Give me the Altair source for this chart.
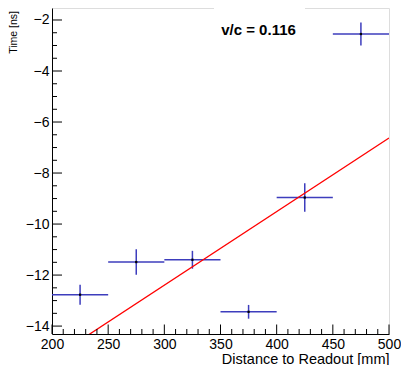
import altair as alt
import pandas as pd
import numpy as np

# Data
dist = [225, 275, 325, 375, 425, 475]          # bin centres [mm]
half_width = [25, 25, 25, 25, 25, 25]          # horizontal error (bin half width)
time = [-12.77, -11.49, -11.40, -13.44, -8.96, -2.55]  # [ns]
time_err = [0.39, 0.50, 0.35, 0.27, 0.56, 0.45]

fit_x = [200, 500]
fit_y = [-15.28, -6.63]

x_major = [200, 250, 300, 350, 400, 450, 500]
x_minor = [v for v in range(200, 501, 10) if v % 50 != 0]
y_major = [-14, -12, -10, -8, -6, -4, -2]
y_minor = [v for v in np.arange(-14.0, -1.9, 0.5).tolist() if v % 2 != 0]

annotation = ["v/c = 0.116"]
y_title = ["Time [ns]"]

W, H = 337, 326
XDOM = [200, 500]
YDOM = [-14.31, -1.53]

df = pd.DataFrame({
    "x": dist,
    "xlo": [a - b for a, b in zip(dist, half_width)],
    "xhi": [a + b for a, b in zip(dist, half_width)],
    "y": time,
    "ylo": [a - b for a, b in zip(time, time_err)],
    "yhi": [a + b for a, b in zip(time, time_err)],
})
fit = pd.DataFrame({"x": fit_x, "y": fit_y})

FONT = "Liberation Sans"
xscale = alt.Scale(domain=XDOM, nice=False, zero=False, padding=0)
yscale = alt.Scale(domain=YDOM, nice=False, zero=False, padding=0)

xaxis = alt.Axis(values=x_major, ticks=False, grid=False, domainColor="black",
                 domainWidth=1, labelFont=FONT, labelFontSize=14, labelColor="black",
                 labelPadding=3, labelFlush=False,
                 title="Distance to Readout [mm]", titleFont=FONT, titleFontSize=14.5,
                 titleFontWeight="normal", titleColor="black", titleAnchor="end",
                 titleAlign="right", titleBaseline="alphabetic", titleX=W, titleY=29)
yaxis = alt.Axis(values=y_major, ticks=False, grid=False, domainColor="black",
                 domainWidth=1, labelFont=FONT, labelFontSize=14, labelColor="black",
                 labelPadding=3, labelFlush=False, title=None)

base = alt.Chart(df)
BLUE = "#3d3dbd"

hbar = base.mark_rule(color=BLUE, strokeWidth=1.5).encode(
    x=alt.X("xlo:Q", scale=xscale, axis=xaxis),
    x2="xhi:Q",
    y=alt.Y("y:Q", scale=yscale, axis=yaxis),
)
vbar = base.mark_rule(color=BLUE, strokeWidth=1.5).encode(
    x=alt.X("x:Q", scale=xscale),
    y=alt.Y("ylo:Q", scale=yscale),
    y2="yhi:Q",
)
pts = base.mark_square(color="black", size=5, opacity=1).encode(
    x=alt.X("x:Q", scale=xscale),
    y=alt.Y("y:Q", scale=yscale),
)
line = alt.Chart(fit).mark_line(color="#ff0000", strokeWidth=1.3, clip=True).encode(
    x=alt.X("x:Q", scale=xscale),
    y=alt.Y("y:Q", scale=yscale),
)

ytm = alt.Chart(pd.DataFrame({"v": y_major})).mark_rule(color="black", strokeWidth=1).encode(
    y=alt.Y("v:Q", scale=yscale), x=alt.value(0), x2=alt.value(10))
ytn = alt.Chart(pd.DataFrame({"v": y_minor})).mark_rule(color="black", strokeWidth=1).encode(
    y=alt.Y("v:Q", scale=yscale), x=alt.value(0), x2=alt.value(5))
xtm = alt.Chart(pd.DataFrame({"v": x_major})).mark_rule(color="black", strokeWidth=1).encode(
    x=alt.X("v:Q", scale=xscale), y=alt.value(H), y2=alt.value(H - 9.5))
xtn = alt.Chart(pd.DataFrame({"v": x_minor})).mark_rule(color="black", strokeWidth=1).encode(
    x=alt.X("v:Q", scale=xscale), y=alt.value(H), y2=alt.value(H - 5))

gap = alt.Chart(pd.DataFrame({"t": annotation})).mark_rect(color="white").encode(
    x=alt.value(162), x2=alt.value(253), y=alt.value(-2), y2=alt.value(2))
label = alt.Chart(pd.DataFrame({"t": annotation})).mark_text(
    font=FONT, fontSize=15, fontWeight="bold", color="black",
    align="center", baseline="middle").encode(
    text="t:N", x=alt.value(206.5), y=alt.value(22))
ytitle = alt.Chart(pd.DataFrame({"t": y_title})).mark_text(
    font=FONT, fontSize=10.5, color="black", angle=270,
    align="right", baseline="middle").encode(
    text="t:N", x=alt.value(-38), y=alt.value(3))

chart = alt.layer(hbar, vbar, line, pts, ytm, ytn, xtm, xtn, gap, label, ytitle).properties(
    width=W, height=H,
    autosize=alt.AutoSizeParams(type="none"),
    padding={"left": 44, "top": 0, "right": 12, "bottom": 33},
).configure_view(stroke="#555555", strokeWidth=1).configure(background="white")

chart.save("out.html", embed_options={"renderer": "svg", "actions": False})
